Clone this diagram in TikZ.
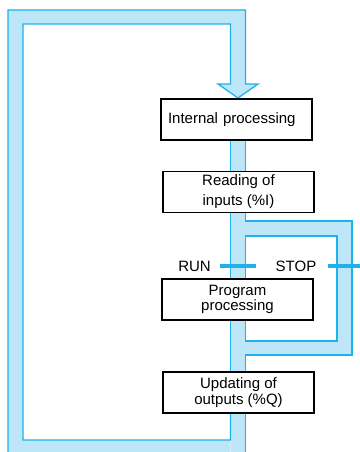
\documentclass[tikz,border=0pt]{standalone}
\usepackage{fontspec}
\setmainfont{Liberation Sans}
\definecolor{bandfill}{HTML}{BEE6F9}
\definecolor{bandline}{HTML}{1FB1EA}
\begin{document}
\begin{tikzpicture}[x=1pt,y=-1pt,
  bandedge/.style={draw=bandline,line width=1.3pt,line join=miter},
  switchbar/.style={draw=bandline,line width=3.8pt},
  stepbox/.style={draw=black,fill=white,line width=1.1pt,minimum width=151pt,minimum height=41pt,inner sep=0pt,align=center,font=\fontsize{15}{15.5}\selectfont},
  lbl/.style={font=\fontsize{15}{16}\selectfont,inner sep=0pt}]
\useasboundingbox (0,0) rectangle (359,452);
% band fills
\fill[bandfill] (8,460)--(8,10)--(245.5,10)--(245.5,84)--(258,84)--(238,98)--(218,84)--(230.5,84)--(230.5,24)--(23,24)--(23,440)--(230.5,440)--(230.5,460)--cycle;
\fill[bandfill] (230.5,99) rectangle (245.5,460);
\fill[bandfill,even odd rule] (245.5,221) rectangle (352,355) (245.5,236) rectangle (337,341);
% band edges
\draw[bandedge] (8,460)--(8,10)--(245.5,10)--(245.5,84)--(258,84)--(238,98)--(218,84)--(230.5,84)--(230.5,24)--(23,24)--(23,440)--(230.5,440)--(230.5,413);
\draw[bandedge] (230.5,140)--(230.5,172);
\draw[bandedge] (245.5,140)--(245.5,172);
\draw[bandedge] (230.5,212)--(230.5,279);
\draw[bandedge] (230.5,320)--(230.5,372);
\draw[bandedge] (245.5,212)--(245.5,221)--(352,221)--(352,355)--(245.5,355)--(245.5,372);
\draw[bandedge] (245.5,279)--(245.5,236)--(337,236)--(337,341)--(245.5,341)--(245.5,320);
\draw[bandedge] (245.5,413)--(245.5,460);
% switch bars
\coordinate (runL) at (220,266);
\coordinate (runR) at (256,266);
\coordinate (stopL) at (328,266);
\coordinate (stopR) at (362,266);
\draw[switchbar] (runL)--(runR);
\draw[switchbar] (stopL)--(stopR);
\node[lbl] (run) at (194.5,266) {RUN};
\node[lbl] (stop) at (296,266) {STOP};
% boxes
\node[stepbox,text width=137pt,align=left,inner xsep=7pt] (internal) at (236.5,119.5) {Internal processing};
\node[stepbox,font=\fontsize{15}{20}\selectfont] (reading) at (238.5,192) {Reading of\\inputs (\%I)};
\node[stepbox] (program) at (237.5,299.5) {Program\\processing};
\node[stepbox] (updating) at (238.5,392.5) {Updating of\\outputs (\%Q)};
\end{tikzpicture}
\end{document}
